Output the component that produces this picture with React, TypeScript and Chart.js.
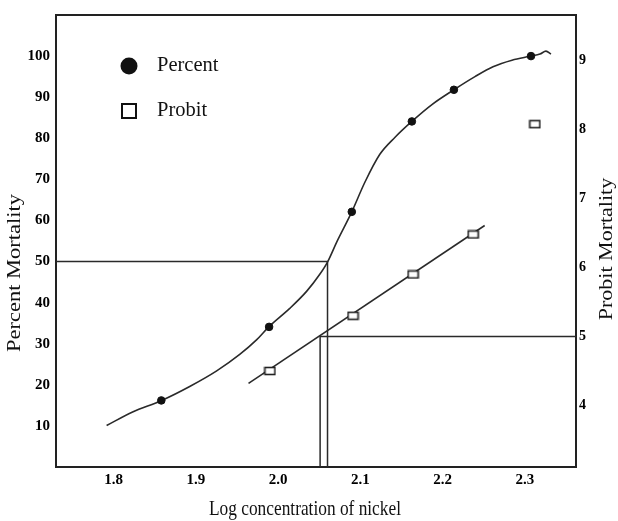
import React, { useEffect, useRef } from "react";
import { Chart, registerables } from "chart.js";
Chart.register(...registerables);

// ---------- data ----------
const xTicks = [1.8, 1.9, 2.0, 2.1, 2.2, 2.3];
const percentTicks = [10, 20, 30, 40, 50, 60, 70, 80, 90, 100];
const probitTicks = [4, 5, 6, 7, 8, 9];

const X_MIN = 1.73;
const X_MAX = 2.362;
const PCT_MIN = 0;
const PCT_MAX = 110;
const PROBIT_MIN = 3.107;
const PROBIT_MAX = 9.663;

const percentMarkerX = [1.858, 1.989, 2.0895, 2.1625, 2.2136, 2.3073];
const percentMarkerY = [16.2, 34.1, 62.1, 84.1, 91.8, 100.0];

const percentCurveX = [1.7915, 1.8231, 1.8584, 1.8925, 1.9253, 1.9533, 1.974, 1.9886, 2.0141, 2.0348, 2.0506, 2.0603, 2.0713, 2.0895, 2.1054, 2.1236, 2.1418, 2.1625, 2.1869, 2.2136, 2.2392, 2.2611, 2.2842, 2.3073, 2.3182, 2.3255, 2.3316];
const percentCurveY = [10.1, 13.4, 16.2, 19.6, 23.4, 27.4, 31.0, 34.1, 38.6, 42.8, 46.9, 50.0, 54.8, 62.1, 69.3, 76.1, 80.2, 84.1, 88.2, 91.8, 95.0, 97.4, 99.0, 100.0, 100.5, 101.2, 100.5];

const probitMarkerX = [1.990, 2.091, 2.164, 2.237, 2.312];
const probitMarkerY = [4.50, 5.30, 5.90, 6.48, 8.08];

const probitLineX = [1.964, 2.251];
const probitLineY = [4.32, 6.61];

const lc50FromPercent = 2.060;
const lc50FromProbit = 2.051;

const legendLabels = ["Percent", "Probit"];
const xTitle = "Log concentration of nickel";
const yLeftTitle = "Percent Mortality";
const yRightTitle = "Probit Mortality";

const SERIF = "'Liberation Serif', 'Times New Roman', serif";

function pts(xs: number[], ys: number[]) {
  return xs.map((x, i) => ({ x, y: ys[i] }));
}

function makeRectMarker(): HTMLCanvasElement {
  const c = document.createElement("canvas");
  c.width = 13;
  c.height = 10;
  const ctx = c.getContext("2d")!;
  ctx.fillStyle = "#fff";
  ctx.fillRect(1, 1, 11, 8);
  ctx.strokeStyle = "#222";
  ctx.lineWidth = 1.6;
  ctx.strokeRect(1.5, 1.5, 10, 7);
  return c;
}

const decorPlugin = {
  id: "decor",
  afterDraw(chart: any) {
    const ctx = chart.ctx as CanvasRenderingContext2D;
    const a = chart.chartArea;
    ctx.save();
    // legend
    const lx = a.left + 73;
    const ly1 = a.top + 51;
    const ly2 = a.top + 96;
    ctx.fillStyle = "#111";
    ctx.beginPath();
    ctx.arc(lx, ly1, 8.5, 0, Math.PI * 2);
    ctx.fill();
    ctx.strokeStyle = "#111";
    ctx.lineWidth = 2;
    ctx.strokeRect(lx - 7, ly2 - 7, 14, 14);
    ctx.font = `20.5px ${SERIF}`;
    ctx.textBaseline = "middle";
    ctx.textAlign = "left";
    ctx.fillStyle = "#111";
    ctx.fillText(legendLabels[0], lx + 28, ly1);
    ctx.fillText(legendLabels[1], lx + 28, ly2);

    // titles
    ctx.textAlign = "center";
    ctx.textBaseline = "middle";

    ctx.save();
    ctx.font = `21px ${SERIF}`;
    ctx.translate(305, 509);
    ctx.scale(0.825, 1);
    ctx.fillText(xTitle, 0, 0);
    ctx.restore();

    ctx.save();
    ctx.font = `22.5px ${SERIF}`;
    ctx.translate(15, 273);
    ctx.scale(0.85, 1);
    ctx.rotate(-Math.PI / 2);
    ctx.fillText(yLeftTitle, 0, 0);
    ctx.restore();

    ctx.save();
    ctx.font = `22px ${SERIF}`;
    ctx.translate(607, 249);
    ctx.scale(0.85, 1);
    ctx.rotate(-Math.PI / 2);
    ctx.fillText(yRightTitle, 0, 0);
    ctx.restore();

    ctx.restore();
  },
};

export default function App() {
  const ref = useRef<HTMLCanvasElement>(null);

  useEffect(() => {
    if (!ref.current) return;
    const rectMarker = makeRectMarker();
    const lineColor = "#2a2a2a";
    const tickFont = { family: SERIF, size: 15, weight: "bold" };
    const noGrid = { display: false, drawTicks: false, tickLength: 0 };
    const chart = new Chart(ref.current, {
      type: "scatter",
      data: {
        datasets: [
          {
            label: "Percent markers",
            data: pts(percentMarkerX, percentMarkerY),
            yAxisID: "yL",
            showLine: false,
            pointStyle: "circle",
            pointRadius: 3.8,
            backgroundColor: "#111",
            borderColor: "#111",
            borderWidth: 1,
          },
          {
            label: "Probit markers",
            data: pts(probitMarkerX, probitMarkerY),
            yAxisID: "yR",
            showLine: false,
            pointStyle: rectMarker,
            pointRadius: 5,
          },
          {
            label: "Percent curve",
            data: pts(percentCurveX, percentCurveY),
            yAxisID: "yL",
            showLine: true,
            pointRadius: 0,
            borderColor: lineColor,
            borderWidth: 1.6,
            cubicInterpolationMode: "monotone",
          },
          {
            label: "Probit line",
            data: pts(probitLineX, probitLineY),
            yAxisID: "yR",
            showLine: true,
            pointRadius: 0,
            borderColor: lineColor,
            borderWidth: 1.6,
            tension: 0,
          },
          {
            label: "LC50 percent",
            data: [
              { x: X_MIN, y: 50 },
              { x: lc50FromPercent, y: 50 },
              { x: lc50FromPercent, y: PCT_MIN },
            ],
            yAxisID: "yL",
            showLine: true,
            pointRadius: 0,
            borderColor: lineColor,
            borderWidth: 1.5,
            tension: 0,
          },
          {
            label: "LC50 probit",
            data: [
              { x: lc50FromProbit, y: PROBIT_MIN },
              { x: lc50FromProbit, y: 5 },
              { x: X_MAX, y: 5 },
            ],
            yAxisID: "yR",
            showLine: true,
            pointRadius: 0,
            borderColor: lineColor,
            borderWidth: 1.5,
            tension: 0,
          },
        ],
      },
      options: {
        responsive: false,
        animation: false,
        layout: { padding: { top: 12, left: 0, right: 0, bottom: 0 } },
        plugins: {
          legend: { display: false },
          tooltip: { enabled: false },
        },
        scales: {
          x: {
            type: "linear",
            position: "bottom",
            min: X_MIN,
            max: X_MAX,
            grid: noGrid,
            border: { display: true, color: "#222", width: 2 },
            afterBuildTicks: (s: any) => {
              s.ticks = xTicks.map((v) => ({ value: v }));
            },
            afterFit: (s: any) => {
              s.height = 54;
            },
            ticks: {
              padding: 4,
              color: "#000",
              font: tickFont,
              callback: (v: any) => Number(v).toFixed(1),
            },
          },
          xTop: {
            type: "linear",
            position: "top",
            min: X_MIN,
            max: X_MAX,
            grid: noGrid,
            border: { display: true, color: "#222", width: 2 },
            ticks: { display: false },
            afterFit: (s: any) => {
              s.height = 0;
            },
          },
          yL: {
            type: "linear",
            position: "left",
            min: PCT_MIN,
            max: PCT_MAX,
            grid: noGrid,
            border: { display: true, color: "#222", width: 2 },
            afterBuildTicks: (s: any) => {
              s.ticks = percentTicks.map((v) => ({ value: v }));
            },
            afterFit: (s: any) => {
              s.width = 56;
            },
            ticks: {
              padding: 6,
              color: "#000",
              font: tickFont,
            },
          },
          yR: {
            type: "linear",
            position: "right",
            min: PROBIT_MIN,
            max: PROBIT_MAX,
            grid: noGrid,
            border: { display: true, color: "#222", width: 2 },
            afterBuildTicks: (s: any) => {
              s.ticks = probitTicks.map((v) => ({ value: v }));
            },
            afterFit: (s: any) => {
              s.width = 42;
            },
            ticks: {
              padding: 3,
              color: "#000",
              font: { family: SERIF, size: 14, weight: "bold" },
            },
          },
        },
      },
      plugins: [decorPlugin],
    } as any);
    return () => chart.destroy();
  }, []);

  return (
    <div style={{ position: "fixed", left: 0, top: 0, width: 618, height: 521, background: "#fff" }}>
      <canvas ref={ref} width={618} height={521} style={{ display: "block" }} />
    </div>
  );
}
